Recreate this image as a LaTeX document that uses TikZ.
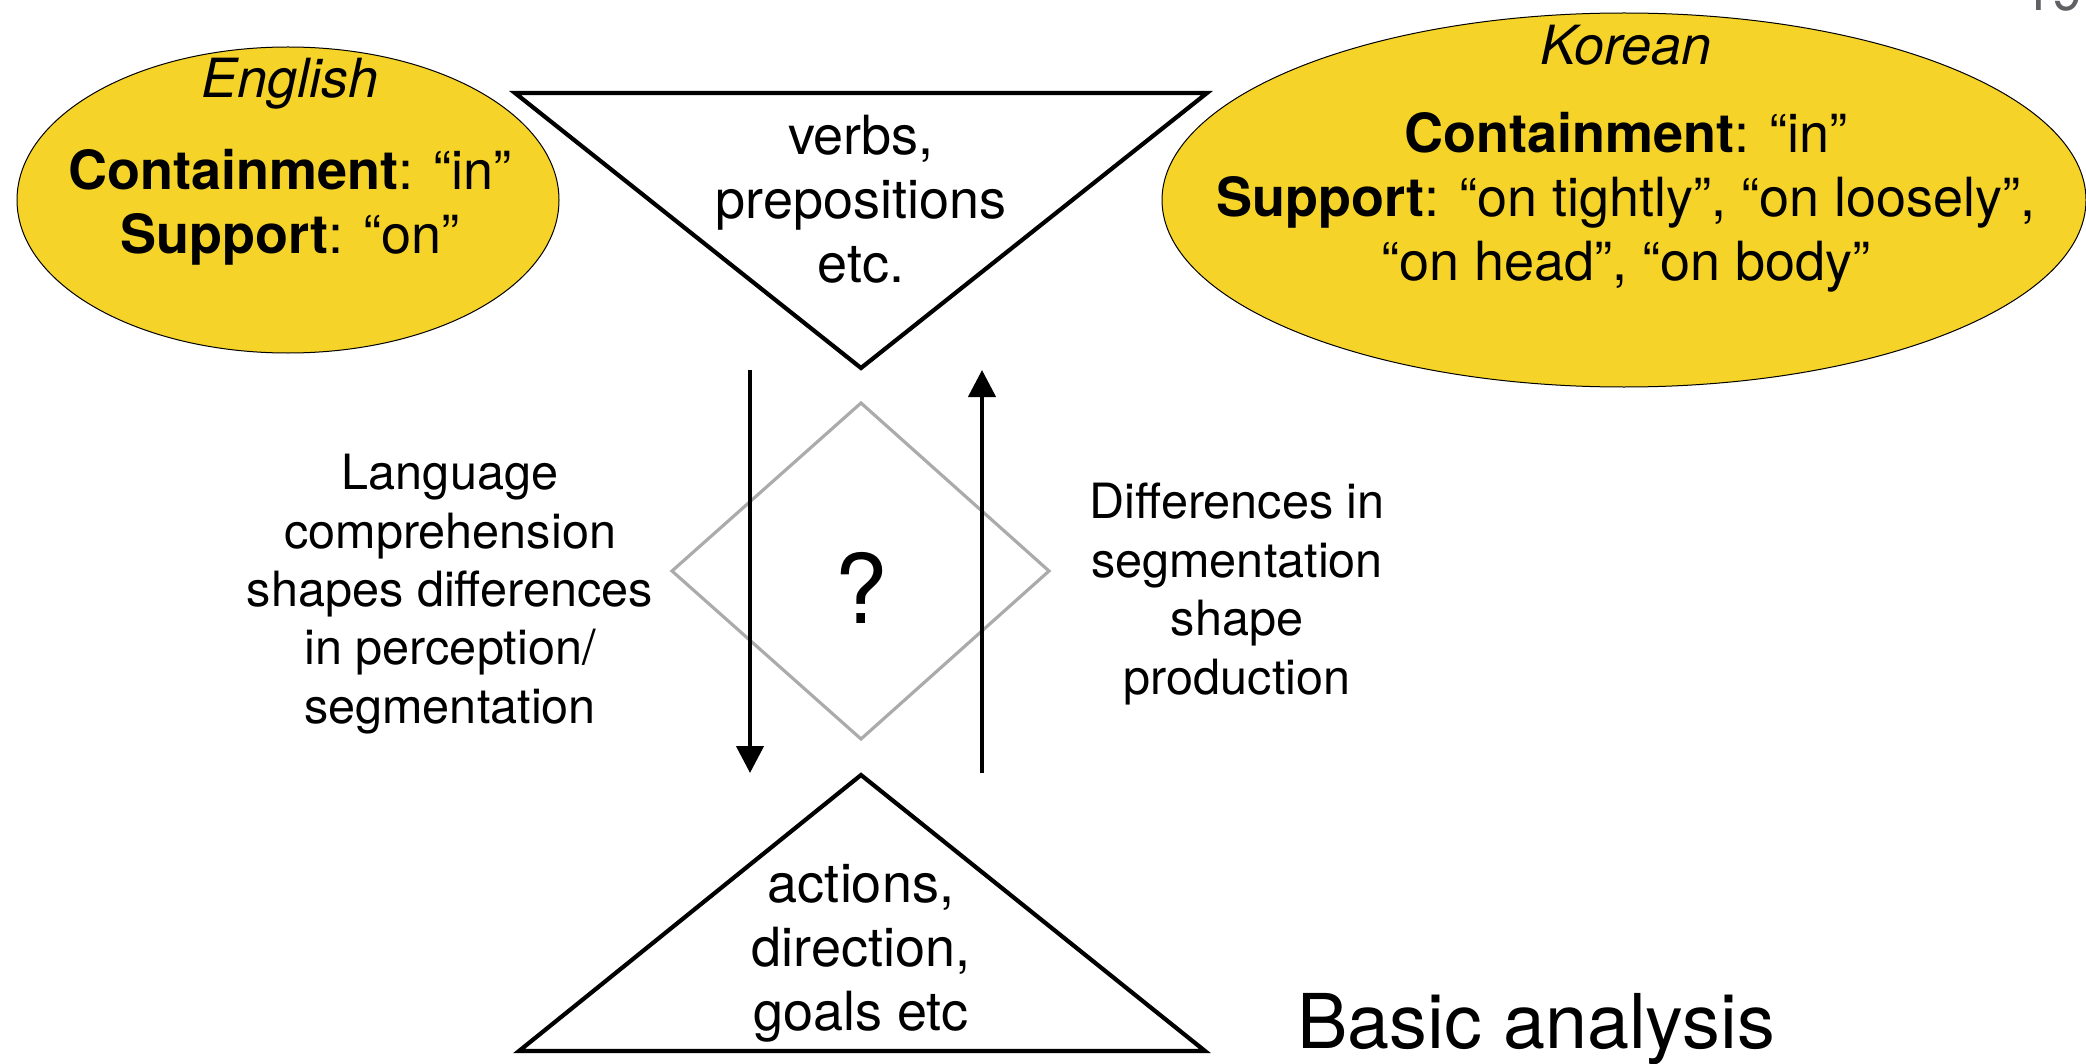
\documentclass[tikz,border=0pt]{standalone}
\usepackage{fontspec}
\setmainfont{TeX Gyre Heros}
\usetikzlibrary{shapes.geometric, arrows.meta}
\definecolor{ellyellow}{RGB}{245,211,41}
\definecolor{diagray}{RGB}{170,172,170}
\definecolor{pagegray}{RGB}{95,95,100}
\begin{document}
\begin{tikzpicture}[x=0.5pt, y=-0.5pt,
  lang/.style={ellipse, draw=black, line width=0.5pt, fill=ellyellow, inner sep=0pt},
  tri/.style={draw=black, line width=2.1pt, line join=miter},
  body/.style={align=center, inner sep=0pt, font=\fontsize{27}{32}\selectfont},
  side/.style={align=center, inner sep=0pt, font=\fontsize{24.3}{29.2}\selectfont},
  flow/.style={draw=black, line width=2.2pt, -{Triangle[length=13.5pt, width=13.5pt]}}
]
\useasboundingbox (0,0) rectangle (2086,1064);

% page number (cut off at the top)
\node[anchor=base west, inner sep=0pt, text=pagegray, font=\fontsize{27}{32}\selectfont] (pg) at (2022,11) {19};

% ellipses
\node[lang, minimum width=271pt, minimum height=153pt] (eng) at (288,200) {};
\node[lang, minimum width=462pt, minimum height=187pt] (kor) at (1624,200) {};

\node[body, font=\fontsize{27}{32}\selectfont\itshape] (engt) at (290,84) {English};
\node[body] (engb) at (290,207) {\textbf{Containment}: “in”\\ \textbf{Support}: “on”};

\node[body, font=\fontsize{27}{32}\selectfont\itshape] (kort) at (1626,45) {Korean};
\node[body] (korb) at (1626,202) {\textbf{Containment}: “in”\\ \textbf{Support}: “on tightly”, “on loosely”,\\ “on head”, “on body”};

% top triangle
\coordinate (tl) at (515,93);
\coordinate (tr) at (1207,93);
\coordinate (ta) at (861,368);
\draw[tri] (tl) -- (tr) -- (ta) -- cycle;
\node[body] (verbs) at (861,199) {verbs,\\ prepositions\\ etc.};

% bottom triangle
\coordinate (ba) at (861,775);
\coordinate (bl) at (519,1051);
\coordinate (br) at (1205,1051);
\draw[tri] (ba) -- (br) -- (bl) -- cycle;
\node[body] (acts) at (861,953) {actions,\\ direction,\\ goals etc};

% diamond
\coordinate (dt) at (861,403);
\coordinate (dr) at (1049,571);
\coordinate (db) at (861,739);
\coordinate (dl) at (672,571);
\draw[diagray, line width=1.6pt, line join=miter] (dt) -- (dr) -- (db) -- (dl) -- cycle;
\node[inner sep=0pt, font=\fontsize{48}{56}\selectfont] (q) at (861,588) {?};

% arrows
\coordinate (a1s) at (750,370);
\coordinate (a1e) at (750,773);
\coordinate (a2s) at (982,773);
\coordinate (a2e) at (982,370);
\draw[flow] (a1s) -- (a1e);
\draw[flow] (a2s) -- (a2e);

% side texts
\node[side] (left) at (450,594) {Language\\ comprehension\\ shapes differences\\ in perception/\\ segmentation};
\node[side] (right) at (1237,594) {Differences in\\ segmentation\\ shape\\ production};

% caption
\node[anchor=base west, inner sep=0pt, font=\fontsize{37.8}{44}\selectfont] (basic) at (1297,1048) {Basic analysis};
\end{tikzpicture}
\end{document}
